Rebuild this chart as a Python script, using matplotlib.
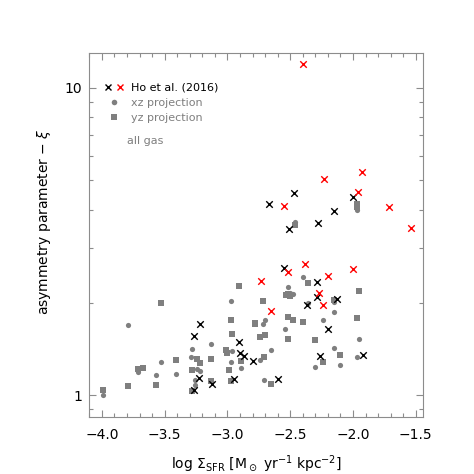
import matplotlib
matplotlib.use("Agg")
import matplotlib.pyplot as plt
from matplotlib.lines import Line2D
from matplotlib.legend_handler import HandlerTuple
from matplotlib.ticker import LogLocator, FixedLocator, MultipleLocator, NullFormatter

# Ho et al. (2016) - black crosses
ho_black_x = [-2.47, -2.67, -2.00, -2.15, -2.28, -2.51, -2.55, -2.29, -2.37, -2.29, -2.13, -3.22, -3.27,
              -2.91, -2.90, -2.87, -2.80, -2.20, -2.26, -1.92, -3.23, -2.95, -2.60, -3.12, -3.27]
ho_black_y = [4.54, 4.19, 4.42, 3.98, 3.64, 3.48, 2.60, 2.33, 1.97, 2.09, 2.05, 1.71, 1.56,
              1.49, 1.37, 1.34, 1.29, 1.64, 1.34, 1.35, 1.14, 1.13, 1.13, 1.09, 1.04]

# Ho et al. (2016) - red crosses
ho_red_x = [-2.40, -2.23, -1.93, -1.96, -2.55, -1.71, -1.54, -2.38, -2.52, -2.73, -2.20, -2.00, -2.65, -2.27, -2.24]
ho_red_y = [11.9, 5.04, 5.32, 4.59, 4.12, 4.10, 3.49, 2.67, 2.51, 2.36, 2.45, 2.57, 1.88, 2.15, 1.96]

# xz projection (circles)
xz_x = [-2.46, -1.97, -2.40, -2.52, -2.50, -2.48, -2.36, -2.97, -2.15, -3.79,
        -2.72, -2.70, -2.54, -2.24, -2.15, -3.13, -1.95, -3.28, -2.96, -2.65,
        -2.15, -3.29, -3.53, -2.97, -2.89, -2.74, -1.97, -2.30, -2.10, -3.71,
        -3.41, -3.57, -3.24, -3.22, -3.26, -3.26, -2.71, -3.99]
xz_y = [3.67, 4.01, 2.42, 2.25, 2.15, 2.13, 2.00, 2.03, 2.01, 1.69,
        1.70, 1.76, 1.64, 1.76, 1.86, 1.47, 1.52, 1.41, 1.39, 1.40,
        1.42, 1.33, 1.28, 1.28, 1.23, 1.30, 1.33, 1.24, 1.25, 1.19,
        1.17, 1.16, 1.22, 1.20, 1.12, 1.08, 1.12, 1.00]

# yz projection (squares)
yz_x = [-2.46, -1.97, -1.97, -2.91, -2.36, -1.95, -2.53, -2.52, -2.50, -3.53,
        -2.72, -2.15, -2.97, -2.78, -2.78, -2.52, -2.48, -2.40, -1.97, -2.96,
        -2.74, -2.70, -2.52, -2.30, -3.01, -3.00, -2.10, -3.24, -3.22, -3.41,
        -3.13, -2.89, -2.71, -2.24, -3.71, -3.67, -3.28, -2.99, -3.13, -2.97,
        -2.65, -3.79, -3.57, -3.28, -3.99]
yz_y = [3.57, 4.18, 4.09, 2.27, 2.31, 2.18, 2.12, 2.13, 2.10, 1.99,
        2.03, 2.04, 1.76, 1.72, 1.70, 1.80, 1.76, 1.73, 1.78, 1.58,
        1.55, 1.57, 1.52, 1.51, 1.40, 1.37, 1.35, 1.31, 1.27, 1.30,
        1.31, 1.29, 1.33, 1.28, 1.22, 1.23, 1.21, 1.21, 1.11, 1.11,
        1.09, 1.07, 1.08, 1.03, 1.04]

x_ticks = [-4.0, -3.5, -3.0, -2.5, -2.0, -1.5]
x_ticklabels = ['\u22124.0', '\u22123.5', '\u22123.0', '\u22122.5', '\u22122.0', '\u22121.5']

gray = '#7f7f7f'
axcol = '#8c8c8c'

fig = plt.figure(figsize=(4.74, 4.74), dpi=100)
ax = fig.add_axes([0.1884, 0.1203, 0.7046, 0.7689])

ax.scatter(xz_x, xz_y, marker='o', s=14, color=gray, linewidths=0, zorder=2)
ax.scatter(yz_x, yz_y, marker='s', s=14, color=gray, linewidths=0, zorder=2)
ax.scatter(ho_black_x, ho_black_y, marker='x', s=22, color='k', linewidths=1.0, zorder=3)
ax.scatter(ho_red_x, ho_red_y, marker='x', s=22, color='red', linewidths=1.0, zorder=3)

ax.set_yscale('log')
ax.set_xlim(-4.1, -1.44)
ax.set_ylim(0.85, 13.0)

ax.xaxis.set_major_locator(FixedLocator(x_ticks))
ax.set_xticklabels(x_ticklabels)
ax.xaxis.set_minor_locator(MultipleLocator(0.1))
ax.yaxis.set_major_locator(FixedLocator([1, 10]))
ax.set_yticklabels(['1', '10'])
ax.yaxis.set_minor_locator(LogLocator(base=10, subs=range(2, 10)))
ax.yaxis.set_minor_formatter(NullFormatter())

ax.tick_params(which='both', direction='in', top=True, right=True, color=axcol, width=0.8)
ax.tick_params(which='major', length=5)
ax.tick_params(which='minor', length=3)
ax.tick_params(axis='x', which='major', pad=8, labelsize=10)
ax.tick_params(axis='y', which='major', pad=5, labelsize=10)
for sp in ax.spines.values():
    sp.set_color(axcol)
    sp.set_linewidth(0.8)

ax.set_xlabel(r'log $\Sigma_{\rm SFR}$ [M$_\odot$ yr$^{-1}$ kpc$^{-2}$]', fontsize=10)
ax.set_ylabel(r'asymmetry parameter $-$ $\xi$', fontsize=10)
ax.xaxis.set_label_coords(0.5, -0.1)
ax.yaxis.set_label_coords(-0.108, 0.536)

h_black = Line2D([], [], ls='none', marker='x', color='k', ms=4.5, mew=1.0)
h_red = Line2D([], [], ls='none', marker='x', color='red', ms=4.5, mew=1.0)
h_xz = Line2D([], [], ls='none', marker='o', color=gray, ms=4, mew=0)
h_yz = Line2D([], [], ls='none', marker='s', color=gray, ms=4, mew=0)
leg = ax.legend([(h_black, h_red), h_xz, h_yz], ['Ho et al. (2016)', 'xz projection', 'yz projection'],
                handler_map={tuple: HandlerTuple(ndivide=None, pad=0.2)},
                loc='upper left', bbox_to_anchor=(0.044, 0.917), frameon=False, fontsize=8,
                handlelength=1.8, handletextpad=0.6, labelspacing=0.45, borderpad=0, borderaxespad=0)
for t in leg.get_texts()[1:]:
    t.set_color(gray)
ax.text(0.112, 0.757, 'all gas', transform=ax.transAxes, fontsize=8, color=gray, va='center')

fig.savefig('out.png', dpi=100)
